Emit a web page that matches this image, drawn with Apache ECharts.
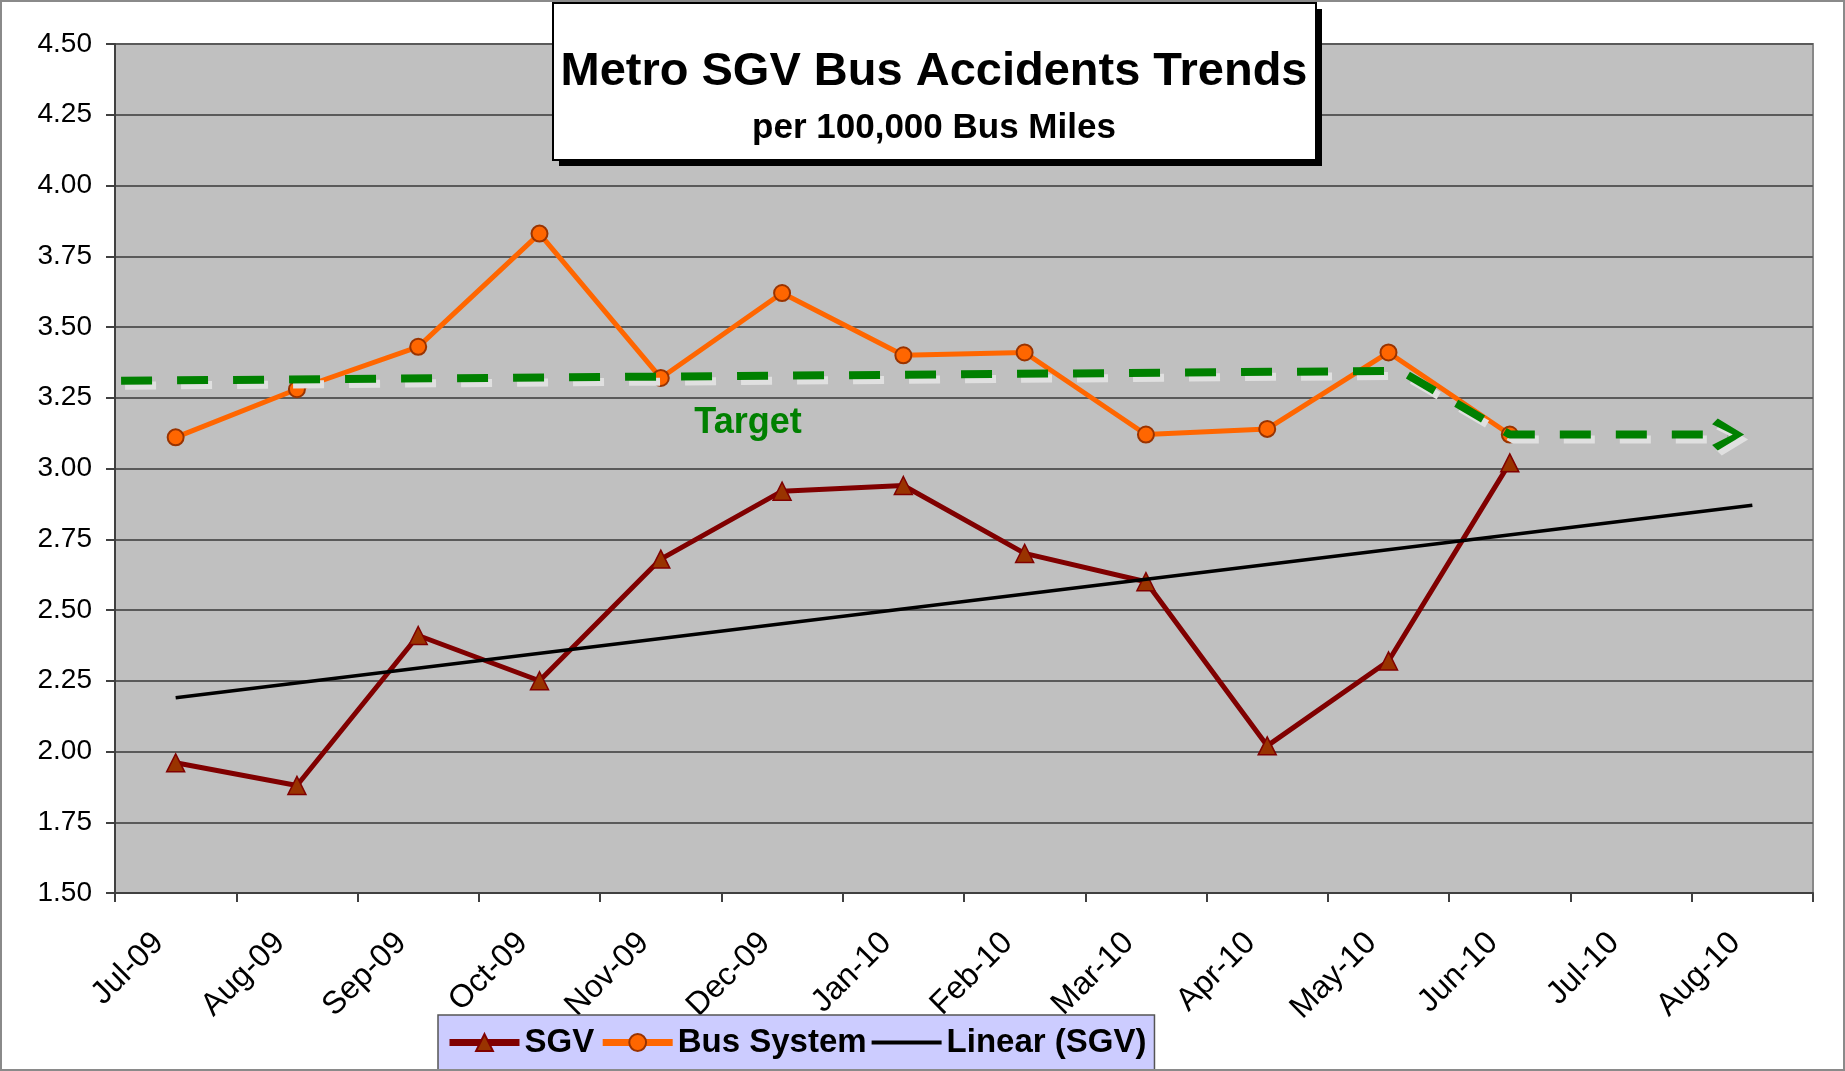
<!DOCTYPE html>
<html>
<head>
<meta charset="utf-8">
<script src="https://cdn.jsdelivr.net/npm/echarts@6/dist/echarts.min.js"></script>
<style>
  html, body { margin: 0; padding: 0; background: #fff; }
  #chart { width: 1845px; height: 1071px; }
</style>
</head>
<body>
<div id="chart"></div>
<script>
// months on the category axis (trend runs two months past the data)
const months = ['Jul-09', 'Aug-09', 'Sep-09', 'Oct-09', 'Nov-09', 'Dec-09', 'Jan-10',
  'Feb-10', 'Mar-10', 'Apr-10', 'May-10', 'Jun-10', 'Jul-10', 'Aug-10'];

// accidents per 100,000 bus miles
const sgv = [1.96, 1.88, 2.41, 2.25, 2.68, 2.92, 2.94, 2.70, 2.60, 2.02, 2.32, 3.02];
const busSystem = [3.11, 3.28, 3.43, 3.83, 3.32, 3.62, 3.40, 3.41, 3.12, 3.14, 3.41, 3.12];

// linear trend of SGV, read at Jul-09 and Aug-10
const linearSgv = [2.19, null, null, null, null, null, null, null, null, null, null, null, null, 2.87];

// hand drawn target arrow: [month position, value]
const targetLine = [[0.05, 3.31], [10.6, 3.345], [11.5, 3.12], [13.3, 3.12]];

const yTicks = { min: 1.5, max: 4.5, step: 0.25 };

const font = "'Liberation Sans', Arial, sans-serif";
const chart = echarts.init(document.getElementById('chart'));

const chevron = 'path://M0,6 L6,0 L34,17 L6,34 L0,28 L22,17 Z';

const option = {
  animation: false,
  backgroundColor: '#ffffff',
  textStyle: { fontFamily: font },
  title: {
    text: 'Metro SGV Bus Accidents Trends',
    subtext: 'per 100,000 Bus Miles',
    left: 934,
    top: 44,
    textAlign: 'center',
    padding: 0,
    itemGap: 8,
    z: 20,
    textStyle: { fontFamily: font, fontSize: 47, fontWeight: 'bold', color: '#000', lineHeight: 56 },
    subtextStyle: { fontFamily: font, fontSize: 35, fontWeight: 'bold', color: '#000', lineHeight: 40 }
  },
  legend: {
    data: [
      { name: 'SGV' },
      { name: 'Bus System' },
      { name: 'Linear (SGV)', icon: 'path://M0,0 L70,0 L70,4 L0,4 Z', itemStyle: { color: '#000' } }
    ],
    left: 438,
    top: 1015,
    padding: [11, 8, 30, 8],
    itemWidth: 70,
    itemHeight: 21,
    itemGap: 5,
    backgroundColor: '#CCCCFF',
    borderColor: '#555',
    borderWidth: 1.5,
    borderRadius: 0,
    lineStyle: { width: 7 },
    textStyle: { fontFamily: font, fontSize: 33, fontWeight: 'bold', color: '#000' }
  },
  grid: {
    left: 115,
    right: 32,
    top: 44,
    bottom: 178,
    show: true,
    backgroundColor: '#C0C0C0',
    borderColor: '#888888',
    borderWidth: 2
  },
  xAxis: [
    {
      type: 'category',
      data: months,
      boundaryGap: true,
      axisLine: { lineStyle: { color: '#404040', width: 2 } },
      axisTick: { show: true, length: 9, lineStyle: { color: '#404040', width: 2 } },
      axisLabel: {
        rotate: 45, margin: 28, padding: [0, 24, 0, 0],
        fontSize: 32, color: '#000', fontFamily: font, interval: 0
      },
      splitLine: { show: false }
    },
    {
      type: 'value',
      min: 0,
      max: months.length,
      show: false
    }
  ],
  yAxis: {
    type: 'value',
    min: yTicks.min,
    max: yTicks.max,
    interval: yTicks.step,
    axisLine: { show: true, lineStyle: { color: '#404040', width: 2 } },
    axisTick: { show: true, length: 9, lineStyle: { color: '#404040', width: 2 } },
    axisLabel: {
      margin: 23,
      fontSize: 28,
      color: '#000',
      fontFamily: font,
      padding: [3, 0, 0, 0],
      formatter: (v) => v.toFixed(2)
    },
    splitLine: { lineStyle: { color: '#5a5a5a', width: 2 } }
  },
  graphic: [
    {
      // drop shadow of the title box
      type: 'rect',
      silent: true,
      z: 10,
      shape: { x: 559, y: 9, width: 763, height: 157 },
      style: { fill: '#000' }
    },
    {
      type: 'rect',
      silent: true,
      z: 11,
      shape: { x: 553, y: 3, width: 763, height: 157 },
      style: { fill: '#ffffff', stroke: '#000', lineWidth: 2 }
    },
    {
      type: 'text',
      silent: true,
      z: 10,
      x: 748,
      y: 423,
      style: {
        text: 'Target',
        font: "bold 36px 'Liberation Sans', Arial, sans-serif",
        fill: '#008000',
        align: 'center',
        verticalAlign: 'middle',
        shadowColor: '#e0e0e0', shadowBlur: 0, shadowOffsetX: 3, shadowOffsetY: 5
      }
    },
    {
      type: 'rect',
      silent: true,
      z: 30,
      shape: { x: 1, y: 1, width: 1843, height: 1069 },
      style: { fill: 'none', stroke: '#8a8a8a', lineWidth: 2 }
    }
  ],
  series: [
    {
      name: 'SGV',
      type: 'line',
      data: sgv,
      symbol: 'triangle',
      symbolSize: 18,
      lineStyle: { color: '#800000', width: 5 },
      itemStyle: { color: '#993300', borderColor: '#800000', borderWidth: 1.5 },
      z: 3
    },
    {
      name: 'Bus System',
      type: 'line',
      data: busSystem,
      symbol: 'circle',
      symbolSize: 16,
      lineStyle: { color: '#FF6600', width: 5 },
      itemStyle: { color: '#FF6600', borderColor: '#993300', borderWidth: 2 },
      z: 3
    },
    {
      name: 'Linear (SGV)',
      type: 'line',
      data: linearSgv,
      connectNulls: true,
      symbol: 'none',
      lineStyle: { color: '#000000', width: 3.5 },
      itemStyle: { color: '#000000' },
      z: 4
    },
    {
      name: 'Target',
      type: 'line',
      xAxisIndex: 1,
      data: targetLine.map((p, i) => i === targetLine.length - 1
        ? { value: p, symbol: chevron, symbolSize: [32, 32] }
        : { value: p, symbol: 'none' }),
      showSymbol: true,
      lineStyle: {
        color: '#008000', width: 8, type: [31, 25],
        shadowColor: '#e0e0e0', shadowBlur: 0, shadowOffsetX: 4, shadowOffsetY: 5
      },
      itemStyle: {
        color: '#008000', borderWidth: 0,
        shadowColor: '#e0e0e0', shadowBlur: 0, shadowOffsetX: 4, shadowOffsetY: 5
      },
      z: 5
    }
  ]
};

chart.setOption(option);
window.addEventListener('resize', chart.resize);
</script>
</body>
</html>
